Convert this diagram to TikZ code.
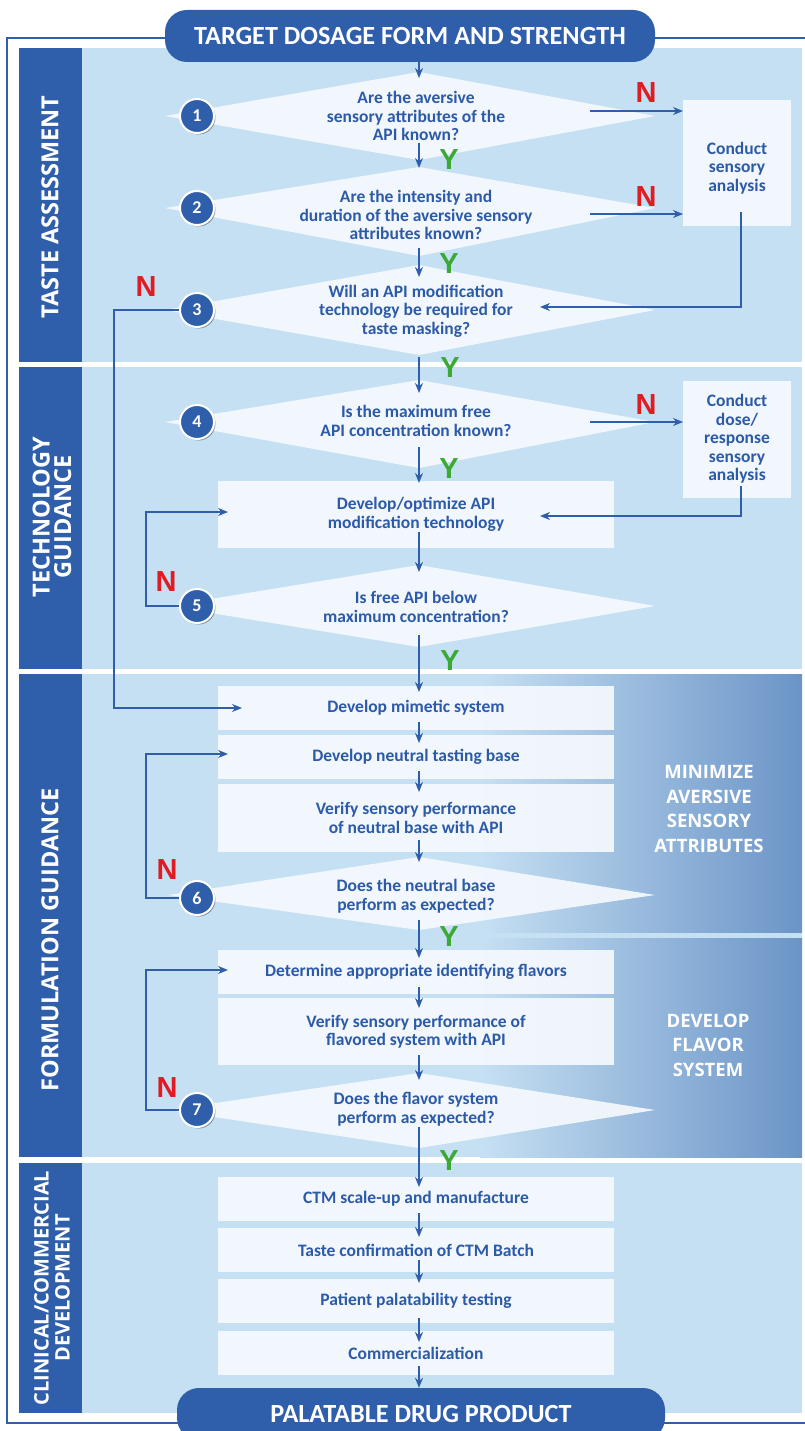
\documentclass[tikz,border=0pt]{standalone}
\usepackage{fontspec}
\setmainfont{Carlito}
\newfontfamily\osans{Open Sans}
\newfontfamily\lsans{Liberation Sans}
\usetikzlibrary{shadows,arrows.meta}
\definecolor{dblue}{HTML}{2F5EAB}
\definecolor{panel}{HTML}{C6E0F3}
\definecolor{boxc}{HTML}{F5F9FD}
\definecolor{txt}{HTML}{2C5AA8}
\definecolor{nred}{HTML}{E21B23}
\definecolor{ygreen}{HTML}{3AAA35}
\definecolor{gdark}{HTML}{6B94C7}
\tikzset{
  pill/.style={fill=dblue, rounded corners=22pt, minimum width=490pt, minimum height=52pt, inner sep=0pt,
    text=white, font=\bfseries\fontsize{26.2}{26}\selectfont},
  boxn/.style={fill=boxc, fill opacity=0.92, text opacity=1, minimum width=396pt, inner sep=0pt, outer sep=0pt,
    text=txt, align=center, font=\bfseries\fontsize{17.5}{18.5}\selectfont},
  rbox/.style={fill=boxc, fill opacity=0.92, minimum width=108pt, inner sep=0pt, outer sep=0pt},
  qtext/.style={text=txt, align=center, inner sep=0pt, font=\bfseries\fontsize{17.5}{18.5}\selectfont},
  dshape/.style={fill=boxc, fill opacity=0.92},
  numc/.style={circle, fill=dblue, draw=white, line width=2pt, minimum size=34pt, inner sep=0pt,
    text=white, font=\bfseries\fontsize{18}{18}\selectfont,
    drop shadow={shadow xshift=1.5pt, shadow yshift=-1.5pt, opacity=0.35, fill=black}},
  arr/.style={draw=dblue, line width=1.6pt, -{Stealth[length=10pt,width=8pt]}},
  nlab/.style={text=nred, inner sep=0pt, font=\lsans\bfseries\fontsize{29}{29}\selectfont},
  ylab/.style={text=ygreen, inner sep=0pt, font=\lsans\bfseries\fontsize{29}{29}\selectfont},
  side/.style={rotate=90, text=white, align=center, inner sep=0pt, font=\osans\bfseries\fontsize{23.5}{21.5}\selectfont},
  rlab/.style={text=white, align=center, inner sep=0pt, font=\osans\bfseries\fontsize{18.5}{24.5}\selectfont}
}
\begin{document}
\begin{tikzpicture}[x=1pt,y=-1pt]
\useasboundingbox (0,0) rectangle (805,1431);
\clip (0,0) rectangle (805,1431);
% outer frame
\draw[dblue, line width=1.5pt] (812,38) -- (7,38) -- (7,1423) -- (812,1423);
% section panels
\foreach \a/\b in {48/362,367/669,674/1157,1163/1413}{
  \fill[dblue] (19,\a) rectangle (82,\b);
  \fill[panel] (82,\a) rectangle (802,\b);
}
\shade[left color=panel, right color=gdark] (480,674) rectangle (802,932);
\shade[left color=panel, right color=gdark] (480,938) rectangle (802,1157);
% side labels
\node[side] (s1) at (50,207) {TASTE ASSESSMENT};
\node[side] (s2) at (52,517) {TECHNOLOGY\\GUIDANCE};
\node[side] (s3) at (50,940) {FORMULATION GUIDANCE};
\node[side, font=\osans\bfseries\fontsize{20}{21}\selectfont] (s4) at (52,1288) {CLINICAL/COMMERCIAL\\DEVELOPMENT};
% right labels
\node[rlab] (r1) at (709,809) {MINIMIZE\\AVERSIVE\\SENSORY\\ATTRIBUTES};
\node[rlab] (r2) at (708,1045) {DEVELOP\\FLAVOR\\SYSTEM};
% spine
\coordinate (sp) at (419,0);
% diamonds
\coordinate (d1t) at (419,72);   \coordinate (d1b) at (419,160);
\coordinate (d2t) at (419,167);  \coordinate (d2b) at (419,256);
\coordinate (d3t) at (419,265);  \coordinate (d3b) at (419,355);
\coordinate (d4t) at (419,380);  \coordinate (d4b) at (419,468);
\coordinate (d5t) at (419,565);  \coordinate (d5b) at (419,647);
\coordinate (d6t) at (419,857);  \coordinate (d6b) at (419,930);
\coordinate (d7t) at (419,1073); \coordinate (d7b) at (419,1148);
\fill[dshape] (165,116) -- (d1t) -- (655,116) -- (d1b) -- cycle;
\fill[dshape] (165,208) -- (d2t) -- (655,208) -- (d2b) -- cycle;
\fill[dshape] (165,310) -- (d3t) -- (655,310) -- (d3b) -- cycle;
\fill[dshape] (165,422) -- (d4t) -- (655,422) -- (d4b) -- cycle;
\fill[dshape] (168,606) -- (d5t) -- (655,606) -- (d5b) -- cycle;
\fill[dshape] (168,895) -- (d6t) -- (655,895) -- (d6b) -- cycle;
\fill[dshape] (168,1110) -- (d7t) -- (655,1110) -- (d7b) -- cycle;
\node[qtext] (q1) at (416,116) {Are the aversive\\sensory attributes of the\\API known?};
\node[qtext] (q2) at (416,215) {Are the intensity and\\duration of the aversive sensory\\attributes known?};
\node[qtext] (q3) at (416,311) {Will an API modification\\technology be required for\\taste masking?};
\node[qtext] (q4) at (416,421) {Is the maximum free\\API concentration known?};
\node[qtext] (q5) at (416,607) {Is free API below\\maximum concentration?};
\node[qtext] (q6) at (416,896) {Does the neutral base\\perform as expected?};
\node[qtext] (q7) at (416,1109) {Does the flavor system\\perform as expected?};
% boxes
\node[boxn, minimum height=67pt] (dev) at (416,514.5) {Develop/optimize API\\modification technology};
\node[boxn, minimum height=44pt] (mim) at (416,708) {Develop mimetic system};
\node[boxn, minimum height=44pt] (neu) at (416,757) {Develop neutral tasting base};
\node[boxn, minimum height=68pt] (ver) at (416,818) {Verify sensory performance\\of neutral base with API};
\node[boxn, minimum height=44pt] (det) at (416,972) {Determine appropriate identifying flavors};
\node[boxn, minimum height=67pt] (vfl) at (416,1031.5) {Verify sensory performance of\\flavored system with API};
\node[boxn, minimum height=44pt] (ctm) at (416,1199) {CTM scale-up and manufacture};
\node[boxn, minimum height=44pt] (tc) at (416,1250) {Taste confirmation of CTM Batch};
\node[boxn, minimum height=44pt] (pat) at (416,1301) {Patient palatability testing};
\node[boxn, minimum height=44pt] (com) at (416,1353) {Commercialization};
% right boxes
\node[rbox, minimum height=126pt] (cs) at (737,163) {};
\node[qtext] (cst) at (737,168) {Conduct\\sensory\\analysis};
\node[rbox, minimum height=117pt] (dose) at (737,439.5) {};
\node[qtext] (dst) at (737,439) {Conduct\\dose/\\response\\sensory\\analysis};
% header and footer
\node[pill] (top) at (410,36) {TARGET DOSAGE FORM AND STRENGTH};
\node[pill, minimum width=488pt] (bot) at (421,1414) {PALATABLE DRUG PRODUCT};
% spine arrows
\draw[arr] (top.south -| sp) -- ([yshift=-6pt]d1t);
\draw[arr] ([yshift=17pt]d1b) -- ([yshift=-1pt]d2t);
\draw[arr] ([yshift=8pt]d2b) -- ([yshift=-12pt]d3t);
\draw[arr] ([yshift=-2pt]d3b) -- ([yshift=-13pt]d4t);
\draw[arr] ([yshift=21pt]d4b) -- ([yshift=-2pt]dev.north -| sp);
\draw[arr] ([yshift=16pt]dev.south -| sp) -- ([yshift=-7pt]d5t);
\draw[arr] ([yshift=12pt]d5b) -- ([yshift=-6pt]mim.north -| sp);
\draw[arr] ([yshift=8pt]mim.south -| sp) -- ([yshift=-8pt]neu.north -| sp);
\draw[arr] ([yshift=8pt]neu.south -| sp) -- ([yshift=-8pt]ver.north -| sp);
\draw[arr] ([yshift=12pt]ver.south -| sp) -- ([yshift=-5pt]d6t);
\draw[arr] ([yshift=10pt]d6b) -- ([yshift=-8pt]det.north -| sp);
\draw[arr] ([yshift=7pt]det.south -| sp) -- ([yshift=-10pt]vfl.north -| sp);
\draw[arr] ([yshift=10pt]vfl.south -| sp) -- ([yshift=-7pt]d7t);
\draw[arr] ([yshift=21pt]d7b) -- ([yshift=-10pt]ctm.north -| sp);
\draw[arr] ([yshift=8pt]ctm.south -| sp) -- ([yshift=-9pt]tc.north -| sp);
\draw[arr] ([yshift=12pt]tc.south -| sp) -- ([yshift=-4pt]pat.north -| sp);
\draw[arr] ([yshift=5pt]pat.south -| sp) -- ([yshift=-11pt]com.north -| sp);
\draw[arr] ([yshift=9pt]com.south -| sp) -- (bot.north -| sp);
% right side arrows
\coordinate (n1s) at (590,111);
\coordinate (n2s) at (590,214);
\coordinate (n4s) at (590,422);
\coordinate (e3) at (540,307);
\coordinate (e4) at (540,516);
\draw[arr] (n1s) -- (n1s -| cs.west);
\draw[arr] (n2s) -- (n2s -| cs.west);
\draw[arr] (n4s) -- (n4s -| dose.west);
\draw[arr] ([xshift=4pt,yshift=14pt]cs.south) |- (e3);
\draw[arr] ([xshift=4pt,yshift=12pt]dose.south) |- (e4);
% circles
\node[numc] (c1) at (197,116) {1};
\node[numc] (c2) at (197,208) {2};
\node[numc] (c3) at (197,310) {3};
\node[numc] (c4) at (197,422) {4};
\node[numc] (c5) at (197,606) {5};
\node[numc] (c6) at (197,898) {6};
\node[numc] (c7) at (197,1110) {7};
% loops
\coordinate (m3) at (114,0);
\draw[arr] (c3.west) -- (c3.west -| m3) |- ([xshift=24pt]mim.west);
\draw[arr] (c5.west) -- ++(-33,0) |- ([xshift=10pt,yshift=2.5pt]dev.west);
\draw[arr] (c6.west) -- ++(-33,0) |- ([xshift=10pt,yshift=3pt]neu.west);
\draw[arr] (c7.west) -- ++(-33,0) |- ([xshift=10pt,yshift=2pt]det.west);
% N / Y labels
\node[nlab] (N1) at (646,93) {N};
\node[nlab] (N2) at (646,197) {N};
\node[nlab] (N3) at (146,287) {N};
\node[nlab] (N4) at (646,405) {N};
\node[nlab] (N5) at (166,582) {N};
\node[nlab] (N6) at (167,870) {N};
\node[nlab] (N7) at (167,1088) {N};
\node[ylab] (Y1) at (449,160) {Y};
\node[ylab] (Y2) at (449,264) {Y};
\node[ylab] (Y3) at (450,368) {Y};
\node[ylab] (Y4) at (449,469) {Y};
\node[ylab] (Y5) at (450,661) {Y};
\node[ylab] (Y6) at (449,937) {Y};
\node[ylab] (Y7) at (449,1161) {Y};
\end{tikzpicture}
\end{document}
